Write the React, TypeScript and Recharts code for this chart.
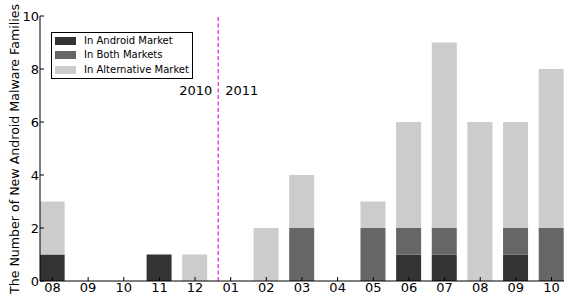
import { BarChart, Bar, XAxis, YAxis, ReferenceLine, Legend } from 'recharts';

const months = ['08', '09', '10', '11', '12', '01', '02', '03', '04', '05', '06', '07', '08', '09', '10'];
const inAndroidMarket = [1, 0, 0, 1, 0, 0, 0, 0, 0, 0, 1, 1, 0, 1, 0];
const inBothMarkets = [0, 0, 0, 0, 0, 0, 0, 2, 0, 2, 1, 1, 0, 1, 2];
const inAlternativeMarket = [2, 0, 0, 0, 1, 0, 2, 2, 0, 1, 4, 7, 6, 4, 6];
const yTicks = [0, 2, 4, 6, 8, 10];
const yearSplit = 4.65;
const legendOrder = ['In Android Market', 'In Both Markets', 'In Alternative Market'];

const FONT = 'DejaVu Sans, Bitstream Vera Sans, sans-serif';

const data = months.map((m, i) => ({
  x: i,
  month: m,
  android: inAndroidMarket[i],
  both: inBothMarkets[i],
  alt: inAlternativeMarket[i],
}));
const xTicks = months.map((_, i) => i);

function YLabel() {
  return (
    <text
      x={14}
      y={149}
      transform="rotate(-90, 14, 149)"
      textAnchor="middle"
      dominantBaseline="central"
      fontSize={12.6}
      fontFamily={FONT}
      fill="#000"
    >
      The Number of New Android Malware Families
    </text>
  );
}

function YearLabels(props: any) {
  const x = props.viewBox?.x ?? 0;
  const y = props.viewBox?.y ?? 0;
  return (
    <g fontFamily={FONT} fontSize={13} fill="#000">
      <text x={x - 6} y={y + 79} textAnchor="end">2010</text>
      <text x={x + 7} y={y + 79} textAnchor="start">2011</text>
    </g>
  );
}

function LegendBox(props: any) {
  const items = [...(props.payload || [])].sort(
    (a: any, b: any) => legendOrder.indexOf(a.value) - legendOrder.indexOf(b.value),
  );
  return (
    <div
      style={{
        border: '1px solid #000',
        background: '#fff',
        padding: '1px 3px 1px 3px',
        fontFamily: FONT,
        fontSize: 10,
        lineHeight: '14.3px',
        width: 134,
        boxSizing: 'content-box',
      }}
    >
      {items.map((it: any) => (
        <div key={it.value} style={{ display: 'flex', alignItems: 'center', whiteSpace: 'nowrap' }}>
          <span style={{ display: 'inline-block', width: 21, height: 8, background: it.color, marginRight: 8 }} />
          <span>{it.value}</span>
        </div>
      ))}
    </div>
  );
}

export default function App() {
  return (
    <div style={{ position: 'absolute', left: 0, top: 0, width: 565, height: 296, background: '#fff' }}>
      <BarChart width={565} height={296} data={data} margin={{ top: 16, right: 1, bottom: 0, left: 10 }}>
        <XAxis
          type="number"
          dataKey="x"
          domain={[-0.35, 14.35]}
          allowDataOverflow
          ticks={xTicks}
          interval={0}
          tickFormatter={(v: number) => months[v]}
          height={15}
          tickSize={-4}
          tickMargin={6}
          axisLine={{ stroke: '#000' }}
          tickLine={{ stroke: '#000' }}
          tick={{ fill: '#000', fontSize: 13, fontFamily: FONT }}
        />
        <XAxis
          xAxisId="top"
          orientation="top"
          type="number"
          dataKey="x"
          domain={[-0.35, 14.35]}
          allowDataOverflow
          ticks={xTicks}
          interval={0}
          height={0}
          tickSize={-4}
          tick={false}
          axisLine={{ stroke: '#000' }}
          tickLine={{ stroke: '#000' }}
        />
        <YAxis
          domain={[0, 10]}
          ticks={yTicks}
          interval={0}
          width={30}
          tickSize={-4}
          tickMargin={5}
          axisLine={{ stroke: '#000' }}
          tickLine={{ stroke: '#000' }}
          tick={{ fill: '#000', fontSize: 13, fontFamily: FONT }}
          label={<YLabel />}
        />
        <YAxis
          yAxisId="right"
          orientation="right"
          domain={[0, 10]}
          ticks={yTicks}
          interval={0}
          width={0}
          tickSize={-4}
          tick={false}
          axisLine={{ stroke: '#000' }}
          tickLine={{ stroke: '#000' }}
        />
        <Legend
          layout="horizontal"
          verticalAlign="middle"
          align="center"
          content={<LegendBox />}
          wrapperStyle={{ left: 51, top: 32, width: 'auto', height: 'auto' }}
        />
        <Bar dataKey="android" name="In Android Market" stackId="a" fill="#333333" barSize={25} isAnimationActive={false} />
        <Bar dataKey="both" name="In Both Markets" stackId="a" fill="#666666" barSize={25} isAnimationActive={false} />
        <Bar dataKey="alt" name="In Alternative Market" stackId="a" fill="#cccccc" barSize={25} isAnimationActive={false} />
        <ReferenceLine
          x={yearSplit}
          stroke="#e030e0"
          strokeWidth={1.3}
          strokeDasharray="4 2.5"
          label={<YearLabels />}
        />
      </BarChart>
    </div>
  );
}
